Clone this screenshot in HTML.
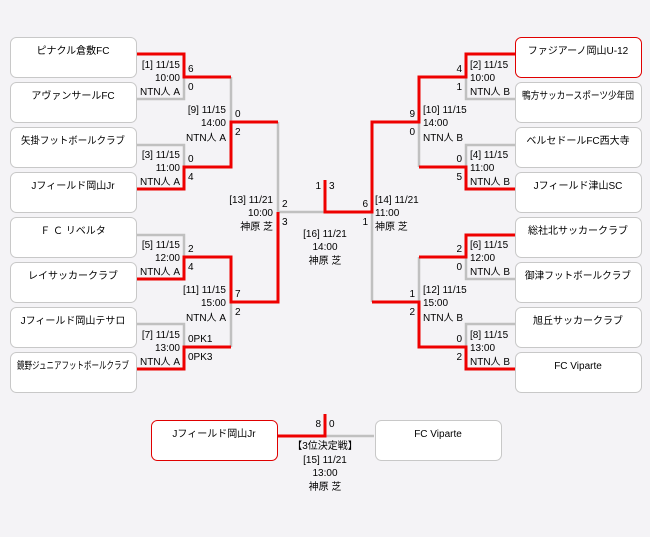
<!DOCTYPE html>
<html><head><meta charset="utf-8"><style>
html,body{margin:0;padding:0;background:#f4f3f6;}
svg{display:block;font-family:"Liberation Sans","Noto Sans CJK JP",sans-serif;font-size:10px;}
</style></head><body>
<svg width="650" height="537" viewBox="0 0 650 537" xmlns="http://www.w3.org/2000/svg">
<rect width="650" height="537" fill="#f4f3f6"/>
<g fill="#fff" stroke="#c8c8c8" stroke-width="1">
<rect x="10.5" y="37.5" width="126" height="40" rx="6"/>
<rect x="10.5" y="82.5" width="126" height="40" rx="6"/>
<rect x="10.5" y="127.5" width="126" height="40" rx="6"/>
<rect x="10.5" y="172.5" width="126" height="40" rx="6"/>
<rect x="10.5" y="217.5" width="126" height="40" rx="6"/>
<rect x="10.5" y="262.5" width="126" height="40" rx="6"/>
<rect x="10.5" y="307.5" width="126" height="40" rx="6"/>
<rect x="10.5" y="352.5" width="126" height="40" rx="6"/>
<rect x="515.5" y="37.5" width="126" height="40" rx="6" stroke="#e00000"/>
<rect x="515.5" y="82.5" width="126" height="40" rx="6"/>
<rect x="515.5" y="127.5" width="126" height="40" rx="6"/>
<rect x="515.5" y="172.5" width="126" height="40" rx="6"/>
<rect x="515.5" y="217.5" width="126" height="40" rx="6"/>
<rect x="515.5" y="262.5" width="126" height="40" rx="6"/>
<rect x="515.5" y="307.5" width="126" height="40" rx="6"/>
<rect x="515.5" y="352.5" width="126" height="40" rx="6"/>
<rect x="151.5" y="420.5" width="126" height="40" rx="6" stroke="#e00000"/>
<rect x="375.5" y="420.5" width="126" height="40" rx="6"/>
</g>
<g fill="none" stroke="#c0c0c0" stroke-width="2.5">
<path d="M137 99H184V77"/>
<path d="M137 145H184V167"/>
<path d="M137 235H184V257"/>
<path d="M137 324H184V347"/>
<path d="M231 77V122"/>
<path d="M231 302V347"/>
<path d="M278 122V212H325"/>
<path d="M515 99H466V77"/>
<path d="M515 145H466V167"/>
<path d="M515 279H466V257"/>
<path d="M515 324H466V347"/>
<path d="M419 122V167"/>
<path d="M419 257V302"/>
<path d="M372 212V302"/>
<path d="M325 436H374"/>
</g>
<g fill="none" stroke="#ee0000" stroke-width="3">
<path d="M137 54H184V77H231"/>
<path d="M137 189H184V167H231V122H278"/>
<path d="M137 279H184V257H231V302H278V212"/>
<path d="M137 369H184V347H231"/>
<path d="M325 180V212H372V122H419V77H466V54H515"/>
<path d="M515 189H466V167H419"/>
<path d="M515 235H466V257H419"/>
<path d="M515 369H466V347H419V302H372"/>
<path d="M278 436H325V414"/>
</g>
<g fill="#000" text-anchor="middle" font-size="10">
<text x="73" y="54">ピナクル倉敷FC</text>
<text x="73" y="99">アヴァンサールFC</text>
<text x="73" y="144" textLength="104" lengthAdjust="spacingAndGlyphs">矢掛フットボールクラブ</text>
<text x="73" y="189">Jフィールド岡山Jr</text>
<text x="73" y="234">Ｆ Ｃ リベルタ</text>
<text x="73" y="279">レイサッカークラブ</text>
<text x="73" y="324">Jフィールド岡山テサロ</text>
<text x="73" y="369" textLength="112" lengthAdjust="spacingAndGlyphs">鏡野ジュニアフットボールクラブ</text>
<text x="578" y="54">ファジアーノ岡山U-12</text>
<text x="578" y="99" textLength="112" lengthAdjust="spacingAndGlyphs">鴨方サッカースポーツ少年団</text>
<text x="578" y="144">ベルセドールFC西大寺</text>
<text x="578" y="189">Jフィールド津山SC</text>
<text x="578" y="234">総社北サッカークラブ</text>
<text x="578" y="279" textLength="106" lengthAdjust="spacingAndGlyphs">御津フットボールクラブ</text>
<text x="578" y="324">旭丘サッカークラブ</text>
<text x="578" y="369">FC Viparte</text>
<text x="214" y="437">Jフィールド岡山Jr</text>
<text x="438" y="437">FC Viparte</text>
</g>
<g fill="#000" text-anchor="end">
<text x="180" y="68">[1] 11/15</text><text x="180" y="81">10:00</text><text x="180" y="95">NTN人 A</text>
<text x="180" y="158">[3] 11/15</text><text x="180" y="171">11:00</text><text x="180" y="185">NTN人 A</text>
<text x="180" y="248">[5] 11/15</text><text x="180" y="261">12:00</text><text x="180" y="275">NTN人 A</text>
<text x="180" y="338">[7] 11/15</text><text x="180" y="351">13:00</text><text x="180" y="365">NTN人 A</text>
<text x="226" y="113">[9] 11/15</text><text x="226" y="126">14:00</text><text x="226" y="141">NTN人 A</text>
<text x="226" y="293">[11] 11/15</text><text x="226" y="306">15:00</text><text x="226" y="321">NTN人 A</text>
<text x="273" y="203">[13] 11/21</text><text x="273" y="216">10:00</text><text x="273" y="230">神原 芝</text>
<text x="462" y="72">4</text><text x="462" y="90">1</text>
<text x="462" y="162">0</text><text x="462" y="180">5</text>
<text x="462" y="252">2</text><text x="462" y="270">0</text>
<text x="462" y="342">0</text><text x="462" y="360">2</text>
<text x="415" y="117">9</text><text x="415" y="135">0</text>
<text x="415" y="297">1</text><text x="415" y="315">2</text>
<text x="368" y="207">6</text><text x="368" y="225">1</text>
<text x="321" y="189">1</text>
<text x="321" y="427">8</text>
</g>
<g fill="#000">
<text x="188" y="72">6</text><text x="188" y="90">0</text>
<text x="188" y="162">0</text><text x="188" y="180">4</text>
<text x="188" y="252">2</text><text x="188" y="270">4</text>
<text x="188" y="342">0PK1</text><text x="188" y="360">0PK3</text>
<text x="235" y="117">0</text><text x="235" y="135">2</text>
<text x="235" y="297">7</text><text x="235" y="315">2</text>
<text x="282" y="207">2</text><text x="282" y="225">3</text>
<text x="329" y="189">3</text>
<text x="329" y="427">0</text>
<text x="470" y="68">[2] 11/15</text><text x="470" y="81">10:00</text><text x="470" y="95">NTN人 B</text>
<text x="470" y="158">[4] 11/15</text><text x="470" y="171">11:00</text><text x="470" y="185">NTN人 B</text>
<text x="470" y="248">[6] 11/15</text><text x="470" y="261">12:00</text><text x="470" y="275">NTN人 B</text>
<text x="470" y="338">[8] 11/15</text><text x="470" y="351">13:00</text><text x="470" y="365">NTN人 B</text>
<text x="423" y="113">[10] 11/15</text><text x="423" y="126">14:00</text><text x="423" y="141">NTN人 B</text>
<text x="423" y="293">[12] 11/15</text><text x="423" y="306">15:00</text><text x="423" y="321">NTN人 B</text>
<text x="375" y="203">[14] 11/21</text><text x="375" y="216">11:00</text><text x="375" y="230">神原 芝</text>
</g>
<g fill="#000" text-anchor="middle">
<text x="325" y="237">[16] 11/21</text><text x="325" y="250">14:00</text><text x="325" y="264">神原 芝</text>
<text x="325" y="449">【3位決定戦】</text><text x="325" y="463">[15] 11/21</text><text x="325" y="476">13:00</text><text x="325" y="490">神原 芝</text>
</g>
</svg>
</body></html>
